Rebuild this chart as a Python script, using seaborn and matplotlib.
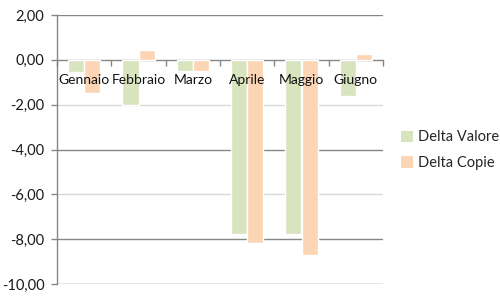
import matplotlib
matplotlib.use("Agg")
import matplotlib.pyplot as plt
import seaborn as sns
import pandas as pd
from matplotlib.ticker import FixedLocator, FuncFormatter
from matplotlib.patches import Patch

months = ["Gennaio", "Febbraio", "Marzo", "Aprile", "Maggio", "Giugno"]
delta_valore = [-0.55, -2.0, -0.48, -7.75, -7.75, -1.6]
delta_copie = [-1.5, 0.42, -0.48, -8.15, -8.7, 0.27]
series = ["Delta Valore", "Delta Copie"]
yticks = [2, 0, -2, -4, -6, -8, -10]
colors = ["#D7E4BD", "#FCD5B5"]

df = pd.DataFrame({
    "Mese": months * 2,
    "Serie": [series[0]] * len(months) + [series[1]] * len(months),
    "Valore": delta_valore + delta_copie,
})

sns.set_theme(style="white")
plt.rcParams["font.family"] = ["Lato", "DejaVu Sans"]

fig = plt.figure(figsize=(5, 3), dpi=100)
ax = fig.add_axes([0.114, 0.0533, 0.652, 0.8967])

sns.barplot(data=df, x="Mese", y="Valore", hue="Serie", order=months,
            hue_order=series, palette=colors, width=0.59, gap=0,
            saturation=1, legend=False, ax=ax, zorder=2)

ax.set_axisbelow(False)
ax.set_ylim(-10, 2)
ax.set_xlim(-0.5, len(months) - 0.5)

# gridlines behind bars
grid_colors = {2: "#868686", -2: "#D9D9D9", -4: "#868686", -6: "#D9D9D9", -8: "#868686", -10: "#868686"}
for v, c in grid_colors.items():
    ax.axhline(v, color=c, lw=1.0, zorder=0.5)

for s in ["top", "right"]:
    ax.spines[s].set_visible(False)
ax.spines["left"].set_color("#868686")
ax.spines["left"].set_linewidth(1.0)
ax.spines["left"].set_zorder(0.6)
ax.spines["bottom"].set_position(("data", 0))
ax.spines["bottom"].set_color("#868686")
ax.spines["bottom"].set_linewidth(1.0)
ax.spines["bottom"].set_zorder(0.6)

ax.yaxis.set_major_locator(FixedLocator(yticks))
ax.yaxis.set_major_formatter(FuncFormatter(lambda v, p: f"{v:.2f}".replace(".", ",")))
ax.tick_params(axis="y", which="major", direction="out", length=4, width=1,
               color="#868686", labelsize=10.5, labelcolor="#1a1a1a", pad=5, left=True)

ax.set_xticks(range(len(months)))
ax.set_xticklabels(months)
ax.set_xticks([i - 0.5 for i in range(len(months) + 1)], minor=True)
ax.tick_params(axis="x", which="major", length=0, labelsize=10, labelcolor="#111111", pad=10)
ax.tick_params(axis="x", which="minor", direction="out", length=4, width=1,
               color="#868686", bottom=True)

ax.set_xlabel("")
ax.set_ylabel("")

handles = [Patch(facecolor=c, edgecolor="none") for c in colors]
fig.legend(handles, series, loc="upper left", bbox_to_anchor=(0.79, 0.585),
           frameon=False, fontsize=10.5, handlelength=0.8, handleheight=0.8,
           handletextpad=0.4, labelspacing=0.8, borderaxespad=0)

fig.savefig("out.png", dpi=100, facecolor="white")
